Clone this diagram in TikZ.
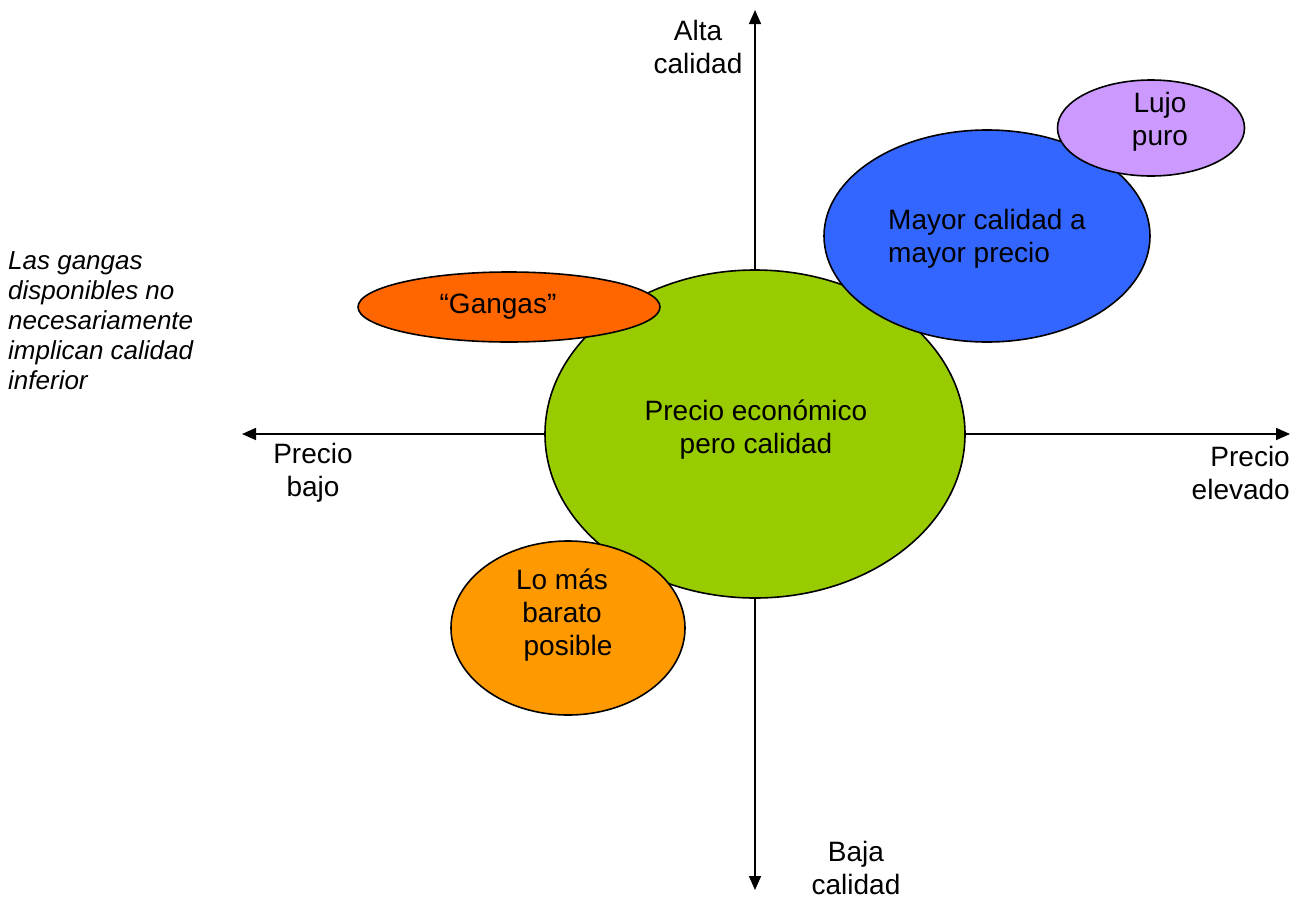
\documentclass[tikz,border=0pt]{standalone}
\usepackage{fontspec}
\setmainfont{Liberation Sans}
\usetikzlibrary{shapes.geometric,arrows.meta}
\definecolor{cgreen}{HTML}{99CC00}
\definecolor{cblue}{HTML}{3366FF}
\definecolor{cpurple}{HTML}{CC99FF}
\definecolor{cred}{HTML}{FF6600}
\definecolor{corange}{HTML}{FF9900}
\tikzset{
  axis/.style={line width=1.6pt,-{Triangle[length=14pt,width=12pt]}},
  blob/.style={ellipse,draw=black,line width=1.6pt,inner sep=0pt},
  lbl/.style={align=center,inner sep=0pt,font=\fontsize{28}{33}\selectfont},
}
\begin{document}
\begin{tikzpicture}[x=1pt,y=-1pt]
\useasboundingbox (0,0) rectangle (1301,900);
\coordinate (o) at (755,434);
\coordinate (top) at (755,10);
\coordinate (bot) at (755,890);
\coordinate (lft) at (242,434);
\coordinate (rgt) at (1290,434);
\draw[axis] (o) -- (top);
\draw[axis] (o) -- (bot);
\draw[axis] (o) -- (lft);
\draw[axis] (o) -- (rgt);
\node[blob,fill=cgreen,minimum width=420,minimum height=328] (green) at (755,434) {};
\node[lbl] (greent) at (756,430) {Precio económico\\pero calidad};
\node[blob,fill=cblue,minimum width=326,minimum height=212] (blue) at (987,236) {};
\node[lbl,align=left] (bluet) at (987,239) {Mayor calidad a\\mayor precio};
\node[blob,fill=cpurple,minimum width=187,minimum height=96] (lujo) at (1151,128) {};
\node[lbl] (lujot) at (1160,122) {Lujo\\puro};
\node[blob,fill=cred,minimum width=302,minimum height=70] (gangas) at (509,307) {};
\node[lbl] (gangast) at (498,307) {“Gangas”};
\node[blob,fill=corange,minimum width=234,minimum height=174] (barato) at (568,628) {};
\node[lbl] (baratot) at (562,615) {Lo más\\barato\\\hspace*{12pt}posible};
\node[lbl] (alta) at (698,47) {Alta\\calidad};
\node[lbl] (baja) at (856,868) {Baja\\calidad};
\node[lbl] (pbajo) at (313,473) {Precio\\bajo};
\node[lbl,align=right,anchor=east] (pelev) at (1290,473) {Precio\\elevado};
\node[lbl,align=left,anchor=north west,font=\fontsize{26}{30}\itshape] (nota) at (8,251) {Las gangas\\disponibles no\\necesariamente\\implican calidad\\inferior};
\end{tikzpicture}
\end{document}
